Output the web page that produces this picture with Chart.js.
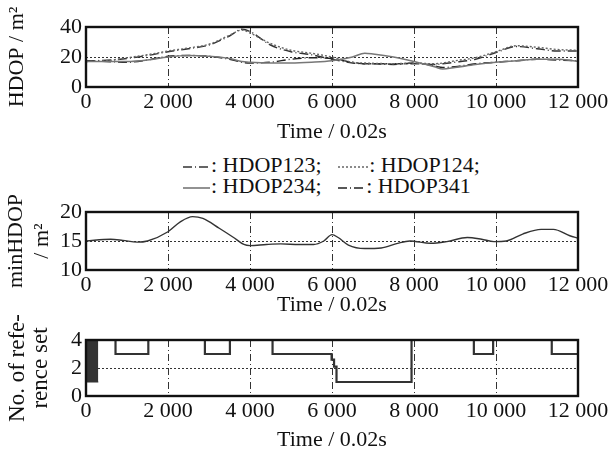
<!DOCTYPE html>
<html><head><meta charset="utf-8">
<script src="https://cdn.jsdelivr.net/npm/chart.js@4"></script>
<style>
body{margin:0;background:#fff;width:611px;height:457px;overflow:hidden;position:relative;font-family:"Liberation Serif","DejaVu Serif",serif;}
.box{position:absolute;left:0;width:611px;}
#legend{position:absolute;left:183px;top:154px;font-size:22px;line-height:21px;color:#111;white-space:nowrap;}
#legend svg{vertical-align:middle;margin-right:1px;}
</style></head><body>
<div class="box" style="top:0;height:150px"><canvas id="c1"></canvas></div>
<div id="legend">
<div><svg width="27" height="10"><line x1="0" y1="5" x2="27" y2="5" stroke="#333" stroke-width="1.3" stroke-dasharray="9,3,1,3"/></svg>: HDOP123;&nbsp;&nbsp; <svg width="30" height="10"><line x1="0" y1="5" x2="30" y2="5" stroke="#666" stroke-width="1.3" stroke-dasharray="2,2"/></svg>: HDOP124;</div>
<div><svg width="27" height="10"><line x1="0" y1="5" x2="27" y2="5" stroke="#777" stroke-width="1.6"/></svg>: HDOP234;&nbsp;&nbsp; <svg width="27" height="10"><line x1="0" y1="5" x2="27" y2="5" stroke="#222" stroke-width="1.3" stroke-dasharray="9,3,1,3"/></svg>: HDOP341</div>
</div>
<div class="box" style="top:193px;height:130px"><canvas id="c2"></canvas></div>
<div class="box" style="top:300px;height:157px"><canvas id="c3"></canvas></div>
<script>
// ---- data ----
const timeTop = [0,500,1000,1500,2000,2500,3000,3500,3800,4000,4500,5000,5500,6000,6500,6800,7000,7500,8000,8500,8700,9000,9500,10000,10500,11000,11500,12000];
const hdop123 = [17.5,17.8,19,21,23.5,25.5,28,34,38.5,37,28,23.5,21.5,18.5,16,15.5,15.5,15.5,15.5,15,15.5,16.5,18.5,23,27,25.5,24,24];
const hdop124 = [17,17.5,19.5,21.5,24,26,28.5,34.5,38,36,29,24.5,22.5,20,16.5,16,15.8,15.5,16,15.5,16,17.5,19.5,23.5,27.5,26.5,25,24.5];
const hdop234 = [17,17,17,18,20,21,20.5,19,17,16.5,16,16,16.5,17.5,20,22.5,22,20,17,13.5,12,13,15,16.5,17.5,18.5,18.5,17];
const hdop341 = [17.5,17,16.5,18,20.5,21,20.5,18.5,16.5,16,16.5,18.5,19.5,19,16.5,15.5,15.5,15,16,14,13,13.5,15.5,16.5,17.5,18.5,18,17.5];

const timeMin = [0,600,900,1250,1500,2000,2300,2600,2850,3250,3600,3850,4000,4400,4750,5200,5550,5800,6000,6150,6400,6800,7200,7600,7900,8400,8800,9300,9650,9950,10250,10650,11100,11400,11800,12000];
const minHdop = [15,15.3,15.1,14.8,15.0,16.6,18.3,19.2,18.9,17.2,15.6,14.4,14.2,14.4,14.5,14.4,14.4,15.0,16.1,15.6,14.3,13.7,13.8,14.6,15.0,14.6,14.9,15.6,15.3,14.9,15.0,16.2,17.0,17.0,15.9,15.5];

const timeRef = [300,720,1520,2900,3510,4550,5990,6050,6110,7940,9460,9930,11360,12000];
const refCount = [4,3,4,3,4,3,2.6,2.1,1,4,3,4,3,3];
const switchStart = 0, switchEnd = 300, switchLow = 1, switchHigh = 4;

const xTicks = [0,2000,4000,6000,8000,10000,12000];
const xTitle = 'Time / 0.02s';

// ---- helpers ----
const FONT = '"Liberation Serif", "DejaVu Serif", serif';
const pts = (xs, ys) => ys.map((y,i)=>({x:xs[i], y}));
const fmt = v => v >= 1000 ? Math.floor(v/1000) + ' 000' : String(v);

const frame = {
  id:'frame',
  afterDraw(chart){
    const {ctx, chartArea:a} = chart;
    ctx.save(); ctx.strokeStyle='#111'; ctx.lineWidth=2.4;
    ctx.strokeRect(a.left, a.top, a.right-a.left, a.bottom-a.top);
    ctx.restore();
  }
};

function makeOpts(o){
  return {
    responsive:true, maintainAspectRatio:false, animation:false,
    layout:{padding:{top:o.padTop, right:33, left:0, bottom:0}},
    plugins:{legend:{display:false}, tooltip:{enabled:false}},
    elements:{point:{radius:0}},
    scales:{
      x:{type:'linear', min:0, max:12000,
        afterBuildTicks: s => { s.ticks = xTicks.map(v=>({value:v})); },
        afterFit: s => { s.height = o.xH; },
        ticks:{color:'#111', font:{family:FONT, size:22}, padding:2, maxRotation:0, autoSkip:false, callback: fmt},
        grid:{drawTicks:false, lineWidth:1,
          color: c => (c.tick && (c.tick.value===0 || c.tick.value===12000)) ? 'rgba(0,0,0,0)' : '#333'},
        border:{display:false, dash:[7,3,1,3]},
        title:{display:true, text:xTitle, color:'#111', font:{family:FONT, size:22}, padding:{top:0,bottom:o.titlePad}}
      },
      y:{min:o.yMin, max:o.yMax,
        afterBuildTicks: s => { s.ticks = o.yTicks.map(v=>({value:v})); },
        afterFit: s => { s.width = 86; },
        ticks:{color:'#111', font:{family:FONT, size:22}, padding:4, autoSkip:false},
        grid:{drawTicks:false, lineWidth:1,
          color: c => (c.tick && c.tick.value===o.yTicks[1]) ? '#333' : 'rgba(0,0,0,0)'},
        border:{display:false, dash:[2,2]},
        title:{display:true, text:o.yTitle, color:'#111', font:{family:FONT, size:o.yFS||22, lineHeight:o.yLH||1.2}, padding:{top:o.yPad||4,bottom:0}}
      }
    }
  };
}

const lineDS = (label, xs, ys, color, dash, w) => ({
  label, data: pts(xs, ys), borderColor: color, borderWidth: w, borderDash: dash,
  fill:false, cubicInterpolationMode:'monotone', pointRadius:0
});

new Chart(document.getElementById('c1'), {
  type:'line',
  data:{datasets:[
    lineDS('HDOP234', timeTop, hdop234, '#777', [], 1.6),
    lineDS('HDOP124', timeTop, hdop124, '#666', [2,2], 1.4),
    lineDS('HDOP123', timeTop, hdop123, '#333', [9,3,1,3], 1.4),
    lineDS('HDOP341', timeTop, hdop341, '#222', [9,3,1,3], 1.4)
  ]},
  options: makeOpts({padTop:27, xH:63, titlePad:5, yMin:0, yMax:40, yTicks:[0,20,40], yTitle:'HDOP / m²'}),
  plugins:[frame]
});

new Chart(document.getElementById('c2'), {
  type:'line',
  data:{datasets:[
    lineDS('minHDOP', timeMin, minHdop, '#333', [], 1.4)
  ]},
  options: makeOpts({padTop:19, xH:53, titlePad:5, yMin:10, yMax:20, yTicks:[10,15,20], yTitle:['minHDOP','/ m²'], yLH:1.15}),
  plugins:[frame]
});

new Chart(document.getElementById('c3'), {
  type:'line',
  data:{datasets:[
    {label:'switchHigh', data:[{x:switchStart,y:switchHigh},{x:switchEnd,y:switchHigh}], borderColor:'#333', borderWidth:1, backgroundColor:'#333', fill:'+1', pointRadius:0},
    {label:'switchLow', data:[{x:switchStart,y:switchLow},{x:switchEnd,y:switchLow}], borderColor:'#333', borderWidth:1, fill:false, pointRadius:0},
    {label:'No. of reference set', data: pts(timeRef, refCount), borderColor:'#333', borderWidth:2.2, stepped:'before', fill:false, pointRadius:0}
  ]},
  options: makeOpts({padTop:40, xH:61, titlePad:4, yMin:0, yMax:4, yTicks:[0,2,4], yTitle:['No. of refe-','rence set'], yLH:1.0, yFS:23, yPad:6}),
  plugins:[frame]
});
</script>
</body></html>
